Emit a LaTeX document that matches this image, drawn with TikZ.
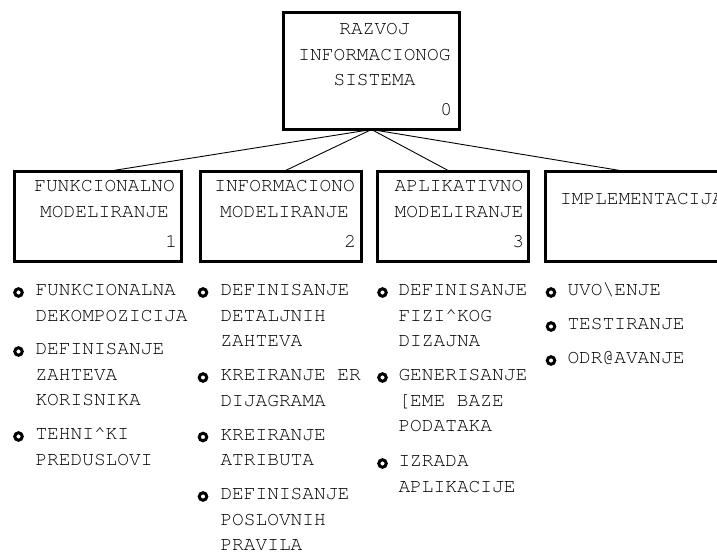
\documentclass[tikz,border=0pt]{standalone}
\usepackage[T1]{fontenc}
\newcommand{\courfont}{\fontencoding{T1}\fontfamily{pcr}\fontseries{m}\fontshape{n}}
\begin{document}
\begin{tikzpicture}[x=1pt,y=1pt,
  txt/.style={font=\courfont\fontsize{19.5}{25.5}\selectfont, inner sep=0pt, outer sep=0pt},
  box/.style={draw, line width=3pt, inner sep=0pt, outer sep=0pt, minimum height=90pt},
  bul/.style={circle, draw, line width=3pt, minimum size=7.5pt, inner sep=0pt},
  conn/.style={line width=0.9pt}]
\useasboundingbox (0,0) rectangle (717,-553);
\clip (0,0) rectangle (717,-553);
% boxes
\node[box, minimum width=176pt, minimum height=117pt] (top) at (371.5,-71) {};
\node[box, minimum width=167pt] (b1) at (98,-216.5) {};
\node[box, minimum width=161pt] (b2) at (281,-216.5) {};
\node[box, minimum width=151pt] (b3) at (453,-216.5) {};
\node[box, minimum width=188pt] (b4) at (639.5,-216.5) {};
% connectors
\draw[conn] (top.south) -- ([xshift=9pt]b1.north);
\draw[conn] (top.south) -- ([xshift=2.5pt]b2.north);
\draw[conn] (top.south) -- ([xshift=-3pt]b3.north);
\draw[conn] (top.south) -- ([xshift=-13.5pt]b4.north);
% box texts (base anchor = last line)
\node[txt, align=center, anchor=base] (t0) at (374.5,-86) {RAZVOJ\\INFORMACIONOG\\SISTEMA};
\node[txt, anchor=base east] (n0) at (452,-116) {0};
\node[txt, align=center, anchor=base] (t1) at (104.5,-217.5) {FUNKCIONALNO\\MODELIRANJE};
\node[txt, anchor=base east] (n1) at (177,-248) {1};
\node[txt, align=center, anchor=base] (t2) at (284.5,-217.5) {INFORMACIONO\\MODELIRANJE};
\node[txt, anchor=base east] (n2) at (356,-248) {2};
\node[txt, align=center, anchor=base] (t3) at (459,-217.5) {APLIKATIVNO\\MODELIRANJE};
\node[txt, anchor=base east] (n3) at (524,-248) {3};
\node[txt, anchor=base west] (t4) at (560,-205) {IMPLEMENTACIJA};
\node[txt, anchor=base east] (n4) at (728,-247) {4};
% column 1
\node[bul] (c1a) at (18.5,-292.5) {};
\node[txt, align=left, anchor=base west] (i1a) at (35.5,-321) {FUNKCIONALNA\\DEKOMPOZICIJA};
\node[bul] (c1b) at (18.5,-351.5) {};
\node[txt, align=left, anchor=base west] (i1b) at (35.5,-405.5) {DEFINISANJE\\ZAHTEVA\\KORISNIKA};
\node[bul] (c1c) at (18.5,-436.5) {};
\node[txt, align=left, anchor=base west] (i1c) at (35.5,-465) {TEHNI\textasciicircum KI\\PREDUSLOVI};
% column 2
\node[bul] (c2a) at (203,-292.5) {};
\node[txt, align=left, anchor=base west] (i2a) at (220.5,-346.5) {DEFINISANJE\\DETALJNIH\\ZAHTEVA};
\node[bul] (c2b) at (203,-377.5) {};
\node[txt, align=left, anchor=base west] (i2b) at (220.5,-406) {KREIRANJE ER\\DIJAGRAMA};
\node[bul] (c2c) at (203,-437) {};
\node[txt, align=left, anchor=base west] (i2c) at (220.5,-465.5) {KREIRANJE\\ATRIBUTA};
\node[bul] (c2d) at (203,-496.5) {};
\node[txt, align=left, anchor=base west] (i2d) at (220.5,-550.5) {DEFINISANJE\\POSLOVNIH\\PRAVILA};
% column 3
\node[bul] (c3a) at (382.5,-292.5) {};
\node[txt, align=left, anchor=base west] (i3a) at (398.5,-346.5) {DEFINISANJE\\FIZI\textasciicircum KOG\\DIZAJNA};
\node[bul] (c3b) at (382.5,-377.5) {};
\node[txt, align=left, anchor=base west] (i3b) at (398.5,-431.5) {GENERISANJE\\{[}EME BAZE\\PODATAKA};
\node[bul] (c3c) at (382.5,-463.5) {};
\node[txt, align=left, anchor=base west] (i3c) at (398.5,-492) {IZRADA\\APLIKACIJE};
% column 4
\node[bul] (c4a) at (551,-292.5) {};
\node[txt, anchor=base west] (i4a) at (567.5,-295.5) {UVO\textbackslash ENJE};
\node[bul] (c4b) at (551,-326.5) {};
\node[txt, anchor=base west] (i4b) at (567.5,-329.5) {TESTIRANJE};
\node[bul] (c4c) at (551,-360.5) {};
\node[txt, anchor=base west] (i4c) at (567.5,-363.5) {ODR@AVANJE};
\end{tikzpicture}
\end{document}
